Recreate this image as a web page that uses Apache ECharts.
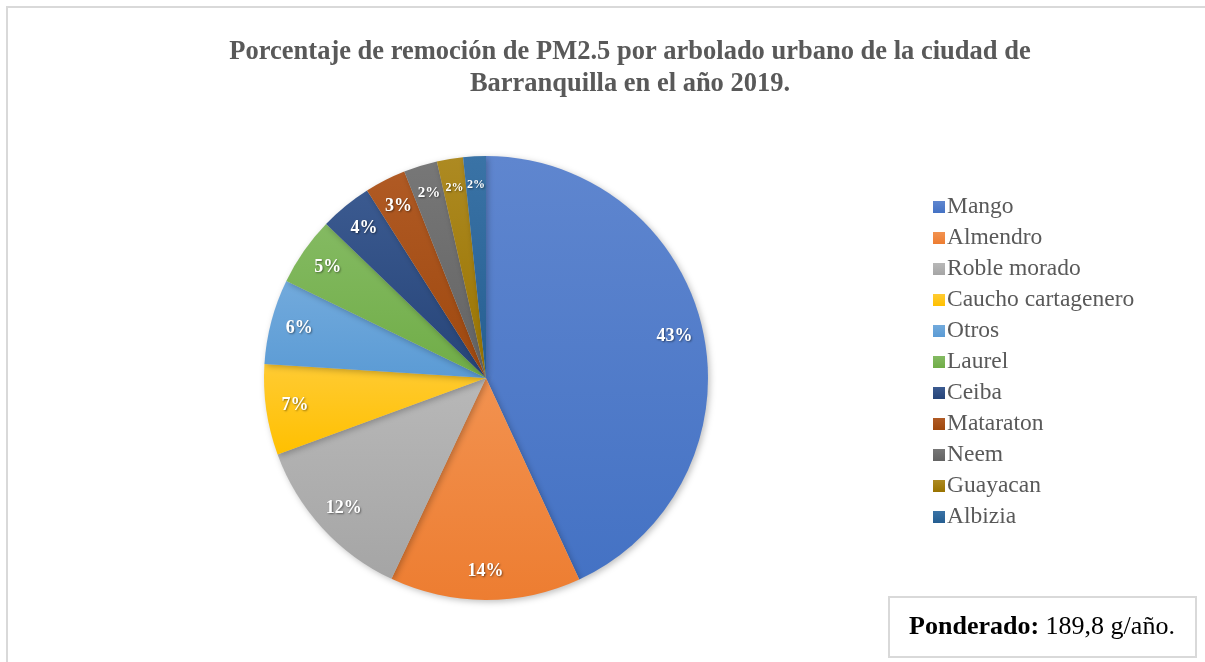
<!DOCTYPE html>
<html>
<head>
<meta charset="utf-8">
<script src="https://cdn.jsdelivr.net/npm/echarts@6/dist/echarts.min.js"></script>
<style>
  html, body { margin: 0; padding: 0; background: #fff; }
  #chart { width: 1205px; height: 662px; }
</style>
</head>
<body>
<div id="chart"></div>
<script>
const species = ['Mango', 'Almendro', 'Roble morado', 'Caucho cartagenero', 'Otros', 'Laurel',
  'Ceiba', 'Mataraton', 'Neem', 'Guayacan', 'Albizia']
const shares = [43.1, 13.9, 12.4, 6.6, 6.2, 5.0, 3.8, 3.0, 2.45, 1.9, 1.65]
const colors = ['#4472C4', '#ED7D31', '#A5A5A5', '#FFC000', '#5B9BD5', '#70AD47',
  '#264478', '#9E480E', '#636363', '#997300', '#255E91']
const lightColors = ['#5F86CF', '#F29250', '#B8B8B8', '#FFCB33', '#72AADC', '#84BA62',
  '#3B5A90', '#B05A24', '#777777', '#AD8A22', '#3A73A6']

const serif = '"Liberation Serif", "Times New Roman", serif'
const chart = echarts.init(document.getElementById('chart'))

const pieData = species.map((name, i) => ({
  name,
  value: shares[i],
  itemStyle: {
    color: new echarts.graphic.LinearGradient(0, 0, 0, 1, [
      { offset: 0, color: lightColors[i] },
      { offset: 1, color: colors[i] }
    ])
  }
}))

const option = {
  animation: false,
  color: colors,
  title: {
    text: 'Porcentaje de remoción de PM2.5 por arbolado urbano de la ciudad de\nBarranquilla en el año 2019.',
    left: 625,
    top: 31,
    textAlign: 'center',
    textStyle: {
      fontFamily: serif,
      fontSize: 26.5,
      fontWeight: 'bold',
      color: '#595959',
      lineHeight: 32
    }
  },
  legend: {
    orient: 'vertical',
    left: 928,
    top: 190,
    itemWidth: 12,
    itemHeight: 12,
    itemGap: 7,
    icon: 'rect',
    data: species,
    textStyle: {
      fontFamily: serif,
      fontSize: 23.5,
      color: '#595959',
      padding: [0, 0, 0, -3]
    }
  },
  series: [
    {
      type: 'pie',
      center: [486, 378],
      radius: 222,
      startAngle: 90,
      clockwise: true,
      data: pieData,
      label: { show: false },
      labelLine: { show: false },
      itemStyle: {
        borderWidth: 0,
        shadowBlur: 6,
        shadowColor: 'rgba(0,0,0,0.25)',
        shadowOffsetX: 2,
        shadowOffsetY: 2
      }
    },
    {
      type: 'pie',
      center: [486, 378],
      radius: [156, 224],
      startAngle: 90,
      clockwise: true,
      silent: true,
      data: species.map((name, i) => ({
        name,
        value: shares[i],
        label: { fontSize: shares[i] < 2 ? 12 : (shares[i] < 3 ? 15 : 18) }
      })),
      itemStyle: { color: 'rgba(0,0,0,0)' },
      label: {
        show: true,
        position: 'inside',
        formatter: (p) => Math.round(p.value) + '%',
        fontFamily: serif,
        fontWeight: 'bold',
        color: '#fff',
        textShadowColor: 'rgba(0,0,0,0.45)',
        textShadowBlur: 2,
        textShadowOffsetX: 1,
        textShadowOffsetY: 1
      },
      labelLine: { show: false },
      emphasis: { disabled: true }
    }
  ],
  graphic: [
    {
      type: 'polyline',
      shape: { points: [[7, 662], [7, 7], [1205, 7]] },
      style: { stroke: '#D9D9D9', lineWidth: 2, fill: null }
    },
    {
      type: 'rect',
      shape: { x: 889, y: 597, width: 307, height: 60 },
      style: { fill: '#fff', stroke: '#D9D9D9', lineWidth: 2 }
    },
    {
      type: 'text',
      x: 1042,
      y: 627,
      style: {
        text: '{b|Ponderado:} 189,8 g/año.',
        align: 'center',
        verticalAlign: 'middle',
        fontFamily: serif,
        fontSize: 26,
        fill: '#000',
        rich: {
          b: { fontFamily: serif, fontSize: 26, fontWeight: 'bold', fill: '#000' }
        }
      }
    }
  ]
}

chart.setOption(option)
</script>
</body>
</html>
